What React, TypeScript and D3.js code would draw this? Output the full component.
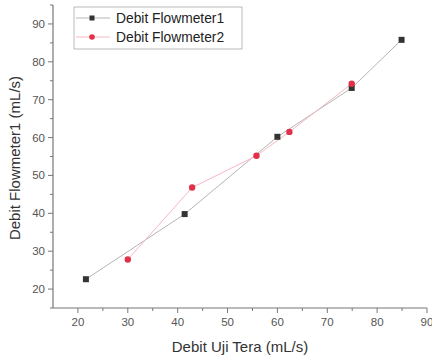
import React from "react";
import * as d3 from "d3";

const s1X = [21.6, 41.4, 60, 74.9, 84.9];
const s1Y = [22.6, 39.8, 60.2, 73.1, 85.8];
const s2X = [30, 42.9, 55.8, 62.4, 74.9];
const s2Y = [27.8, 46.8, 55.2, 61.5, 74.2];
const xTicks = [20, 30, 40, 50, 60, 70, 80, 90];
const yTicks = [20, 30, 40, 50, 60, 70, 80, 90];
const xMinor = [25, 35, 45, 55, 65, 75, 85];
const yMinor = [15, 25, 35, 45, 55, 65, 75, 85, 95];
const seriesNames = ["Debit Flowmeter1", "Debit Flowmeter2"];

export default function App() {
  const W = 432, H = 361;
  const x = d3.scaleLinear().domain([15, 90]).range([53, 427]);
  const y = d3.scaleLinear().domain([15, 95]).range([308, 5]);
  const line = d3.line<[number, number]>().x(d => x(d[0])).y(d => y(d[1]));
  const p1 = s1X.map((v, i) => [v, s1Y[i]] as [number, number]);
  const p2 = s2X.map((v, i) => [v, s2Y[i]] as [number, number]);
  const axisColor = "#777";
  const font = "Liberation Sans, Arial, sans-serif";
  return (
    <svg width={W} height={H} style={{ position: "absolute", left: 0, top: 0 }} fontFamily={font}>
      <rect width={W} height={H} fill="#fff" />
      <path d={line(p1) || ""} fill="none" stroke="#b5b5b5" strokeWidth={1} />
      <path d={line(p2) || ""} fill="none" stroke="#f6b8c0" strokeWidth={1} />
      {p1.map((d, i) => (
        <rect key={"a" + i} x={x(d[0]) - 3} y={y(d[1]) - 3} width={6} height={6} fill="#333" />
      ))}
      {p2.map((d, i) => (
        <circle key={"b" + i} cx={x(d[0])} cy={y(d[1])} r={3.2} fill="#e0304a" />
      ))}
      <line x1={53} x2={53} y1={y(95)} y2={308} stroke={axisColor} strokeWidth={1.2} />
      <line x1={53} x2={427} y1={308} y2={308} stroke={axisColor} strokeWidth={1.2} />
      {xTicks.map(t => (
        <g key={"xt" + t}>
          <line x1={x(t)} x2={x(t)} y1={308} y2={313} stroke={axisColor} />
          <text x={x(t)} y={326} textAnchor="middle" fontSize={11.5} fill="#555">{t}</text>
        </g>
      ))}
      {xMinor.map(t => (
        <line key={"xm" + t} x1={x(t)} x2={x(t)} y1={308} y2={311} stroke={axisColor} />
      ))}
      {yTicks.map(t => (
        <g key={"yt" + t}>
          <line x1={48} x2={53} y1={y(t)} y2={y(t)} stroke={axisColor} />
          <text x={45} y={y(t) + 4} textAnchor="end" fontSize={11.5} fill="#555">{t}</text>
        </g>
      ))}
      {yMinor.map(t => (
        <line key={"ym" + t} x1={50} x2={53} y1={y(t)} y2={y(t)} stroke={axisColor} />
      ))}
      <text x={240} y={352} textAnchor="middle" fontSize={15} fill="#333">Debit Uji Tera (mL/s)</text>
      <text transform="translate(20,158) rotate(-90)" textAnchor="middle" fontSize={15} fill="#333">Debit Flowmeter1 (mL/s)</text>
      <rect x={74} y={7} width={168} height={42} fill="#fff" stroke="#aaa" strokeWidth={0.8} />
      <line x1={76} x2={110} y1={18} y2={18} stroke="#b5b5b5" />
      <rect x={89.5} y={15.5} width={5} height={5} fill="#333" />
      <text x={116} y={23} fontSize={13.8} fill="#222">{seriesNames[0]}</text>
      <line x1={76} x2={110} y1={37} y2={37} stroke="#f6b8c0" />
      <circle cx={92} cy={37} r={2.8} fill="#e0304a" />
      <text x={116} y={42} fontSize={13.8} fill="#222">{seriesNames[1]}</text>
    </svg>
  );
}
